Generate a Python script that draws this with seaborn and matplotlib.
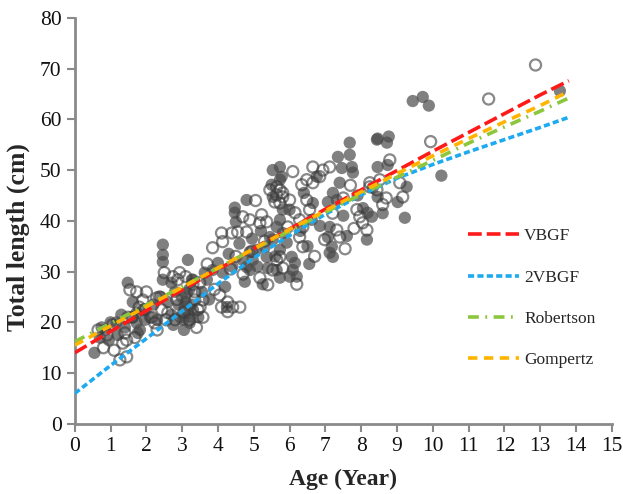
import numpy as np
import pandas as pd
import matplotlib
matplotlib.use("Agg")
import matplotlib.pyplot as plt
import seaborn as sns

# observed fish: (age in years, total length in cm)
solid_pts = np.array([
    (0.55, 14.0), (0.75, 19.0), (0.7, 17.0), (0.95, 16.5), (0.85, 18.5), (1.0, 20.0),
    (1.17, 20.0), (1.3, 21.5), (1.4, 19.0), (1.2, 17.5), (1.48, 27.8), (1.62, 24.0),
    (1.62, 21.0), (1.73, 19.9), (1.82, 18.5), (1.96, 20.5), (1.76, 17.9), (1.73, 21.9),
    (1.9, 22.5),
    (2.46, 35.3), (2.46, 33.3), (2.46, 31.9), (2.46, 28.4), (2.7, 27.8), (2.1, 21.0),
    (2.2, 23.5), (2.3, 20.5), (2.4, 25.0), (2.6, 24.0), (2.7, 21.5), (2.8, 26.0),
    (2.9, 23.5), (2.95, 21.0), (2.75, 19.5),
    (2.99, 25.0), (3.07, 23.0), (3.16, 21.9), (3.02, 20.5), (3.21, 19.9), (3.16, 32.3),
    (3.27, 28.4), (3.1, 24.0), (3.3, 22.5), (3.45, 21.0), (3.2, 26.5), (3.05, 18.5),
    (3.25, 23.5), (3.63, 29.8), (3.69, 28.4), (3.3, 28.4), (3.13, 25.8), (3.21, 21.1),
    (3.85, 30.3), (3.55, 26.0), (3.75, 24.5),
    (4.0, 31.7), (4.13, 29.8), (4.25, 23.0), (4.47, 42.6), (4.47, 41.6), (4.8, 44.1),
    (4.5, 39.8), (4.89, 33.9), (4.8, 30.9), (4.89, 30.3), (4.69, 32.3), (4.97, 32.3),
    (4.3, 33.5), (4.6, 35.5), (4.2, 27.0), (4.75, 28.0), (4.4, 31.0), (4.95, 36.5),
    (5.45, 36.8), (5.31, 34.9), (5.36, 32.9), (5.08, 34.3), (5.39, 30.7), (5.64, 30.3),
    (5.73, 28.8), (5.5, 47.1), (5.73, 48.1), (5.73, 50.6), (5.78, 48.7), (5.53, 50.0),
    (5.53, 44.7), (5.81, 42.2), (5.73, 40.2), (5.64, 38.8), (5.81, 37.6), (5.53, 36.3),
    (5.92, 35.7), (5.73, 34.3), (5.2, 38.0), (5.1, 31.0), (5.25, 27.5), (5.6, 33.0),
    (6.0, 42.2), (6.65, 43.5), (6.62, 40.2), (6.06, 32.9), (6.15, 31.7), (6.09, 30.3),
    (6.2, 29.0), (6.0, 29.0), (6.76, 48.7), (6.4, 45.5), (6.3, 38.0), (6.5, 35.0),
    (6.85, 39.0), (6.55, 31.5),
    (7.68, 55.4), (7.68, 53.0), (7.35, 52.6), (7.46, 50.4), (7.74, 50.6), (7.77, 49.5),
    (7.21, 45.5), (7.32, 44.1), (7.07, 43.7), (7.12, 38.8), (7.07, 36.8), (7.18, 34.9),
    (7.12, 33.7), (7.21, 32.9), (7.5, 41.0), (7.6, 37.0), (7.9, 45.0), (7.4, 47.5),
    (8.18, 41.6), (8.3, 40.8), (8.16, 36.3), (8.46, 44.7), (8.32, 46.5), (8.44, 56.0),
    (8.46, 56.2), (8.77, 56.6), (8.72, 55.4), (8.46, 50.6), (8.74, 51.0), (8.05, 42.5),
    (8.6, 41.5),
    (9.27, 46.7), (9.02, 43.7), (9.22, 40.6), (9.44, 63.6), (9.72, 64.4), (9.89, 62.7),
    (10.24, 48.9), (13.55, 65.6),
])

open_pts = np.array([
    (0.8, 15.0), (0.65, 18.5), (0.9, 17.5), (1.05, 19.5), (1.26, 12.6), (1.45, 13.2),
    (1.4, 17.9), (1.45, 16.5), (1.34, 15.9), (1.48, 21.0), (1.1, 14.5), (1.54, 26.4),
    (1.73, 26.0), (1.9, 24.4), (1.6, 21.0), (1.8, 23.0), (1.96, 22.5), (1.68, 17.0),
    (2.0, 26.0), (2.15, 21.0), (2.23, 19.9), (2.29, 24.8), (2.37, 25.0), (2.5, 29.8),
    (2.74, 29.0), (2.88, 28.4), (2.93, 29.8), (2.43, 22.5), (2.6, 21.9), (2.8, 20.5),
    (2.3, 18.5), (2.55, 20.5), (2.85, 24.5),
    (3.3, 27.5), (3.35, 24.4), (3.5, 23.0), (3.58, 21.0), (3.49, 27.8), (3.35, 26.0),
    (3.58, 24.4), (3.44, 22.5), (3.1, 29.0), (3.2, 20.5), (3.05, 22.0), (3.4, 19.0),
    (3.85, 34.7), (3.7, 31.5), (3.9, 26.5),
    (4.13, 35.9), (4.1, 37.6), (4.39, 37.6), (4.55, 37.8), (4.8, 37.8), (4.69, 40.8),
    (4.89, 40.2), (4.05, 25.4), (4.27, 24.0), (4.61, 23.0), (4.1, 23.0), (4.27, 22.1),
    (4.41, 23.0), (4.5, 33.0), (4.7, 29.5), (4.35, 30.5), (4.95, 34.0),
    (5.22, 41.2), (5.17, 39.6), (5.36, 39.8), (5.17, 28.8), (5.39, 27.4), (5.73, 32.9),
    (5.45, 46.1), (5.73, 46.1), (5.64, 45.1), (5.81, 44.7), (5.73, 43.5), (5.64, 46.7),
    (5.81, 45.5), (5.59, 43.7), (5.95, 38.8), (5.64, 32.3), (5.53, 30.3), (5.81, 30.7),
    (5.3, 36.0), (5.05, 44.0),
    (6.09, 49.7), (6.48, 48.1), (6.34, 47.1), (6.65, 50.6), (6.93, 50.0), (6.84, 48.7),
    (6.65, 47.5), (6.0, 44.1), (6.15, 41.6), (6.28, 40.2), (6.48, 44.1), (6.56, 42.2),
    (6.37, 38.8), (6.28, 36.8), (6.37, 34.9), (6.98, 36.3), (6.7, 33.0), (6.2, 27.5),
    (7.12, 50.6), (7.32, 38.2), (7.4, 36.8), (7.88, 42.2), (7.96, 40.8), (7.5, 44.5),
    (7.7, 47.0), (7.2, 41.5), (7.55, 34.5), (7.8, 38.5),
    (8.04, 39.6), (8.16, 38.2), (8.24, 46.7), (8.44, 46.1), (8.52, 48.1), (8.8, 52.0),
    (8.24, 47.5), (8.6, 43.2), (8.7, 44.5),
    (9.08, 47.5), (9.16, 44.7), (9.94, 55.6), (11.56, 64.0), (12.87, 70.7),
])

# fitted growth curves
curve_age = [0, 1, 2, 3, 4, 5, 6, 7, 8, 9, 10, 11, 12, 13, 13.8]
vbgf = [14.0, 18.2, 22.3, 26.4, 30.4, 34.5, 38.4, 42.3, 46.1, 49.9, 53.7, 57.4, 61.1, 64.8, 67.6]
vbgf2 = [6.0, 11.5, 16.8, 22.2, 27.6, 32.7, 37.1, 41.3, 45.1, 48.4, 51.1, 53.6, 56.0, 58.4, 60.4]
robertson = [16.2, 19.8, 23.4, 27.0, 30.7, 34.4, 38.0, 41.7, 45.2, 48.6, 51.9, 55.3, 58.5, 61.6, 64.2]
gompertz = [15.5, 19.3, 23.1, 26.9, 30.7, 34.5, 38.3, 42.0, 45.7, 49.3, 52.8, 56.2, 59.5, 62.7, 65.5]

curve_names = ["VBGF", "2VBGF", "Robertson", "Gompertz"]
curve_colors = ["#ff1a1a", "#1eaaf0", "#8cc63f", "#ffb400"]
curve_dashes = [(0, (3.8, 1.4)), (0, (1.7, 0.9)), (0, (3.0, 1.8, 0.5, 1.8)), (0, (2.6, 1.8))]

sns.set_style("white")
plt.rcParams["font.family"] = ["Liberation Serif", "DejaVu Serif"]

fig = plt.figure(figsize=(6.23, 4.94), dpi=100)
ax = fig.add_axes([0.120, 0.142, 0.862, 0.822])

sns.scatterplot(x=solid_pts[:, 0], y=solid_pts[:, 1], ax=ax, s=78,
                color="#4a4a4a", alpha=0.7, edgecolor="none", zorder=2)
sns.scatterplot(x=open_pts[:, 0], y=open_pts[:, 1], ax=ax, s=64,
                facecolor="none", edgecolor="#3a3a3a", linewidth=1.6, alpha=0.6, zorder=2)

for name, vals, col, ls in zip(curve_names, [vbgf, vbgf2, robertson, gompertz],
                               curve_colors, curve_dashes):
    sns.lineplot(x=curve_age, y=vals, ax=ax, color=col, linewidth=2.6,
                 linestyle=ls, label=name, zorder=3)

ax.set_xlim(0, 15)
ax.set_ylim(0, 80)
ax.set_xticks(range(0, 16))
ax.set_yticks(range(0, 81, 10))
ax.set_xlabel("Age (Year)", fontsize=17, fontweight="bold", labelpad=9)
ax.set_ylabel("Total length (cm)", fontsize=18.5, fontweight="bold", labelpad=8)
ax.yaxis.set_label_coords(-0.083, 0.46)
ax.tick_params(axis="both", labelsize=15.5, labelcolor="#111111", length=6, width=1.5,
               direction="out", bottom=True, left=True, color="#8a8a8a")

for side in ["top", "right"]:
    ax.spines[side].set_visible(False)
for side in ["left", "bottom"]:
    ax.spines[side].set_color("#8a8a8a")
    ax.spines[side].set_linewidth(2)

leg = ax.legend(loc="upper left", bbox_to_anchor=(0.704, 0.52), frameon=False,
                fontsize=12.5, handlelength=2.9, labelspacing=1.45, handletextpad=0.3)

fig.savefig("out.png", dpi=100)
